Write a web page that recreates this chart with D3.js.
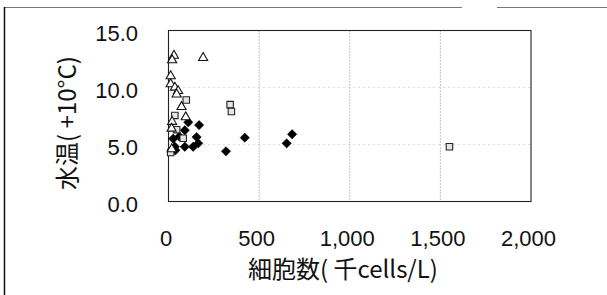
<!DOCTYPE html>
<html><head><meta charset="utf-8">
<script src="https://cdn.jsdelivr.net/npm/d3@7"></script>
<style>html,body{margin:0;padding:0;background:#fff;}svg{display:block;}</style>
</head><body>
<script>
const xTicks = [0, 500, 1000, 1500, 2000];
const yTicks = [0, 5, 10, 15];
const xTitle = "細胞数( 千cells/L)";
const yTitle = "水温( +10°C)";
// series: triangles (open), squares (grey), diamonds (black)
const triX = [30, 20, 191, 12, 12, 35, 53, 45, 72, 20, 17, 95, 18];
const triY = [12.8, 12.4, 12.6, 11.0, 10.3, 10.0, 9.7, 9.4, 8.3, 7.0, 6.4, 7.4, 4.6];
const sqX = [98, 340, 347, 35, 81, 12, 1550, 45];
const sqY = [8.9, 8.5, 7.9, 7.55, 5.55, 4.3, 4.8, 6.3];
const diaX = [109, 169, 90, 26, 155, 164, 136, 90, 35, 38, 60, 317, 421, 652, 682];
const diaY = [6.95, 6.7, 6.25, 5.5, 5.65, 5.1, 4.8, 4.8, 4.8, 4.5, 5.7, 4.4, 5.6, 5.1, 5.9];

const W = 607, H = 295;
const svg = d3.select("body").append("svg").attr("width", W).attr("height", H);
const m = {l: 168.5, r: 531, t: 30.5, b: 201.5};
const x = d3.scaleLinear().domain([0, 2000]).range([m.l, m.r]);
const y = d3.scaleLinear().domain([0, 15]).range([m.b, m.t]);

// outer frame
svg.append("line").attr("x1", 4).attr("x2", 462).attr("y1", 7.5).attr("y2", 7.5).attr("stroke", "#777").attr("stroke-width", 1.2);
svg.append("line").attr("x1", 497).attr("x2", 607).attr("y1", 7.5).attr("y2", 7.5).attr("stroke", "#777").attr("stroke-width", 1.2);
svg.append("line").attr("x1", 4.5).attr("x2", 4.5).attr("y1", 7).attr("y2", 295).attr("stroke", "#111").attr("stroke-width", 1.5);

// gridlines
svg.append("g").selectAll("line").data(xTicks.filter(d => d > 0 && d < 2000)).join("line")
  .attr("x1", d => x(d)).attr("x2", d => x(d)).attr("y1", m.t).attr("y2", m.b)
  .attr("stroke", "#888").attr("stroke-dasharray", "1,2");
svg.append("g").selectAll("line").data(yTicks.filter(d => d > 0 && d < 15)).join("line")
  .attr("x1", m.l).attr("x2", m.r).attr("y1", d => y(d)).attr("y2", d => y(d))
  .attr("stroke", "#bbb").attr("stroke-dasharray", "1,4");

// plot border
svg.append("rect").attr("x", m.l).attr("y", m.t).attr("width", m.r - m.l).attr("height", m.b - m.t)
  .attr("fill", "none").attr("stroke", "#222").attr("stroke-width", 1.1);

// axes labels
const font = "'Liberation Sans Narrow', 'Liberation Sans', Arial, sans-serif";
const xAxis = d3.axisBottom(x).tickValues(xTicks).tickSize(0).tickPadding(0).tickFormat(d3.format(","));
const gx = svg.append("g").attr("transform", `translate(-3,${m.b + 44})`).call(xAxis);
gx.select(".domain").remove();
gx.selectAll("text").attr("font-family", font).attr("font-size", 22).attr("fill", "#111").attr("dy", "0");
const yAxis = d3.axisLeft(y).tickValues(yTicks).tickSize(0).tickPadding(0).tickFormat(d3.format(".1f"));
const gy = svg.append("g").attr("transform", `translate(138,3)`).call(yAxis);
gy.select(".domain").remove();
gy.selectAll("text").attr("font-family", font).attr("font-size", 22).attr("fill", "#111");

svg.append("text").attr("x", 343).attr("y", 278).attr("text-anchor", "middle")
  .attr("font-family", "'Noto Sans CJK JP', sans-serif").attr("font-size", 24).attr("fill", "#111").text(xTitle);
svg.append("text").attr("transform", "translate(76,123) rotate(-90)").attr("text-anchor", "middle")
  .attr("font-family", "'Noto Sans CJK JP', sans-serif").attr("font-size", 24).attr("fill", "#111").text(yTitle);

// markers
const g = svg.append("g");
g.selectAll(".dia").data(diaX.map((v, i) => [v, diaY[i]])).join("path").attr("class", "dia")
  .attr("transform", d => `translate(${x(d[0])},${y(d[1])})`)
  .attr("d", d3.symbol(d3.symbolDiamond2, 56)).attr("fill", "#000").attr("stroke", "#000").attr("stroke-width", 0.5);
g.selectAll(".sq").data(sqX.map((v, i) => [v, sqY[i]])).join("path").attr("class", "sq")
  .attr("transform", d => `translate(${x(d[0])},${y(d[1])})`)
  .attr("d", d3.symbol(d3.symbolSquare, 42)).attr("fill", "#e4e4e4").attr("stroke", "#222").attr("stroke-width", 1.1);
g.selectAll(".tri").data(triX.map((v, i) => [v, triY[i]])).join("path").attr("class", "tri")
  .attr("transform", d => `translate(${x(d[0])},${y(d[1])})`)
  .attr("d", d3.symbol(d3.symbolTriangle, 36)).attr("fill", "#fff").attr("stroke", "#111").attr("stroke-width", 1.1);
</script>
</body></html>
